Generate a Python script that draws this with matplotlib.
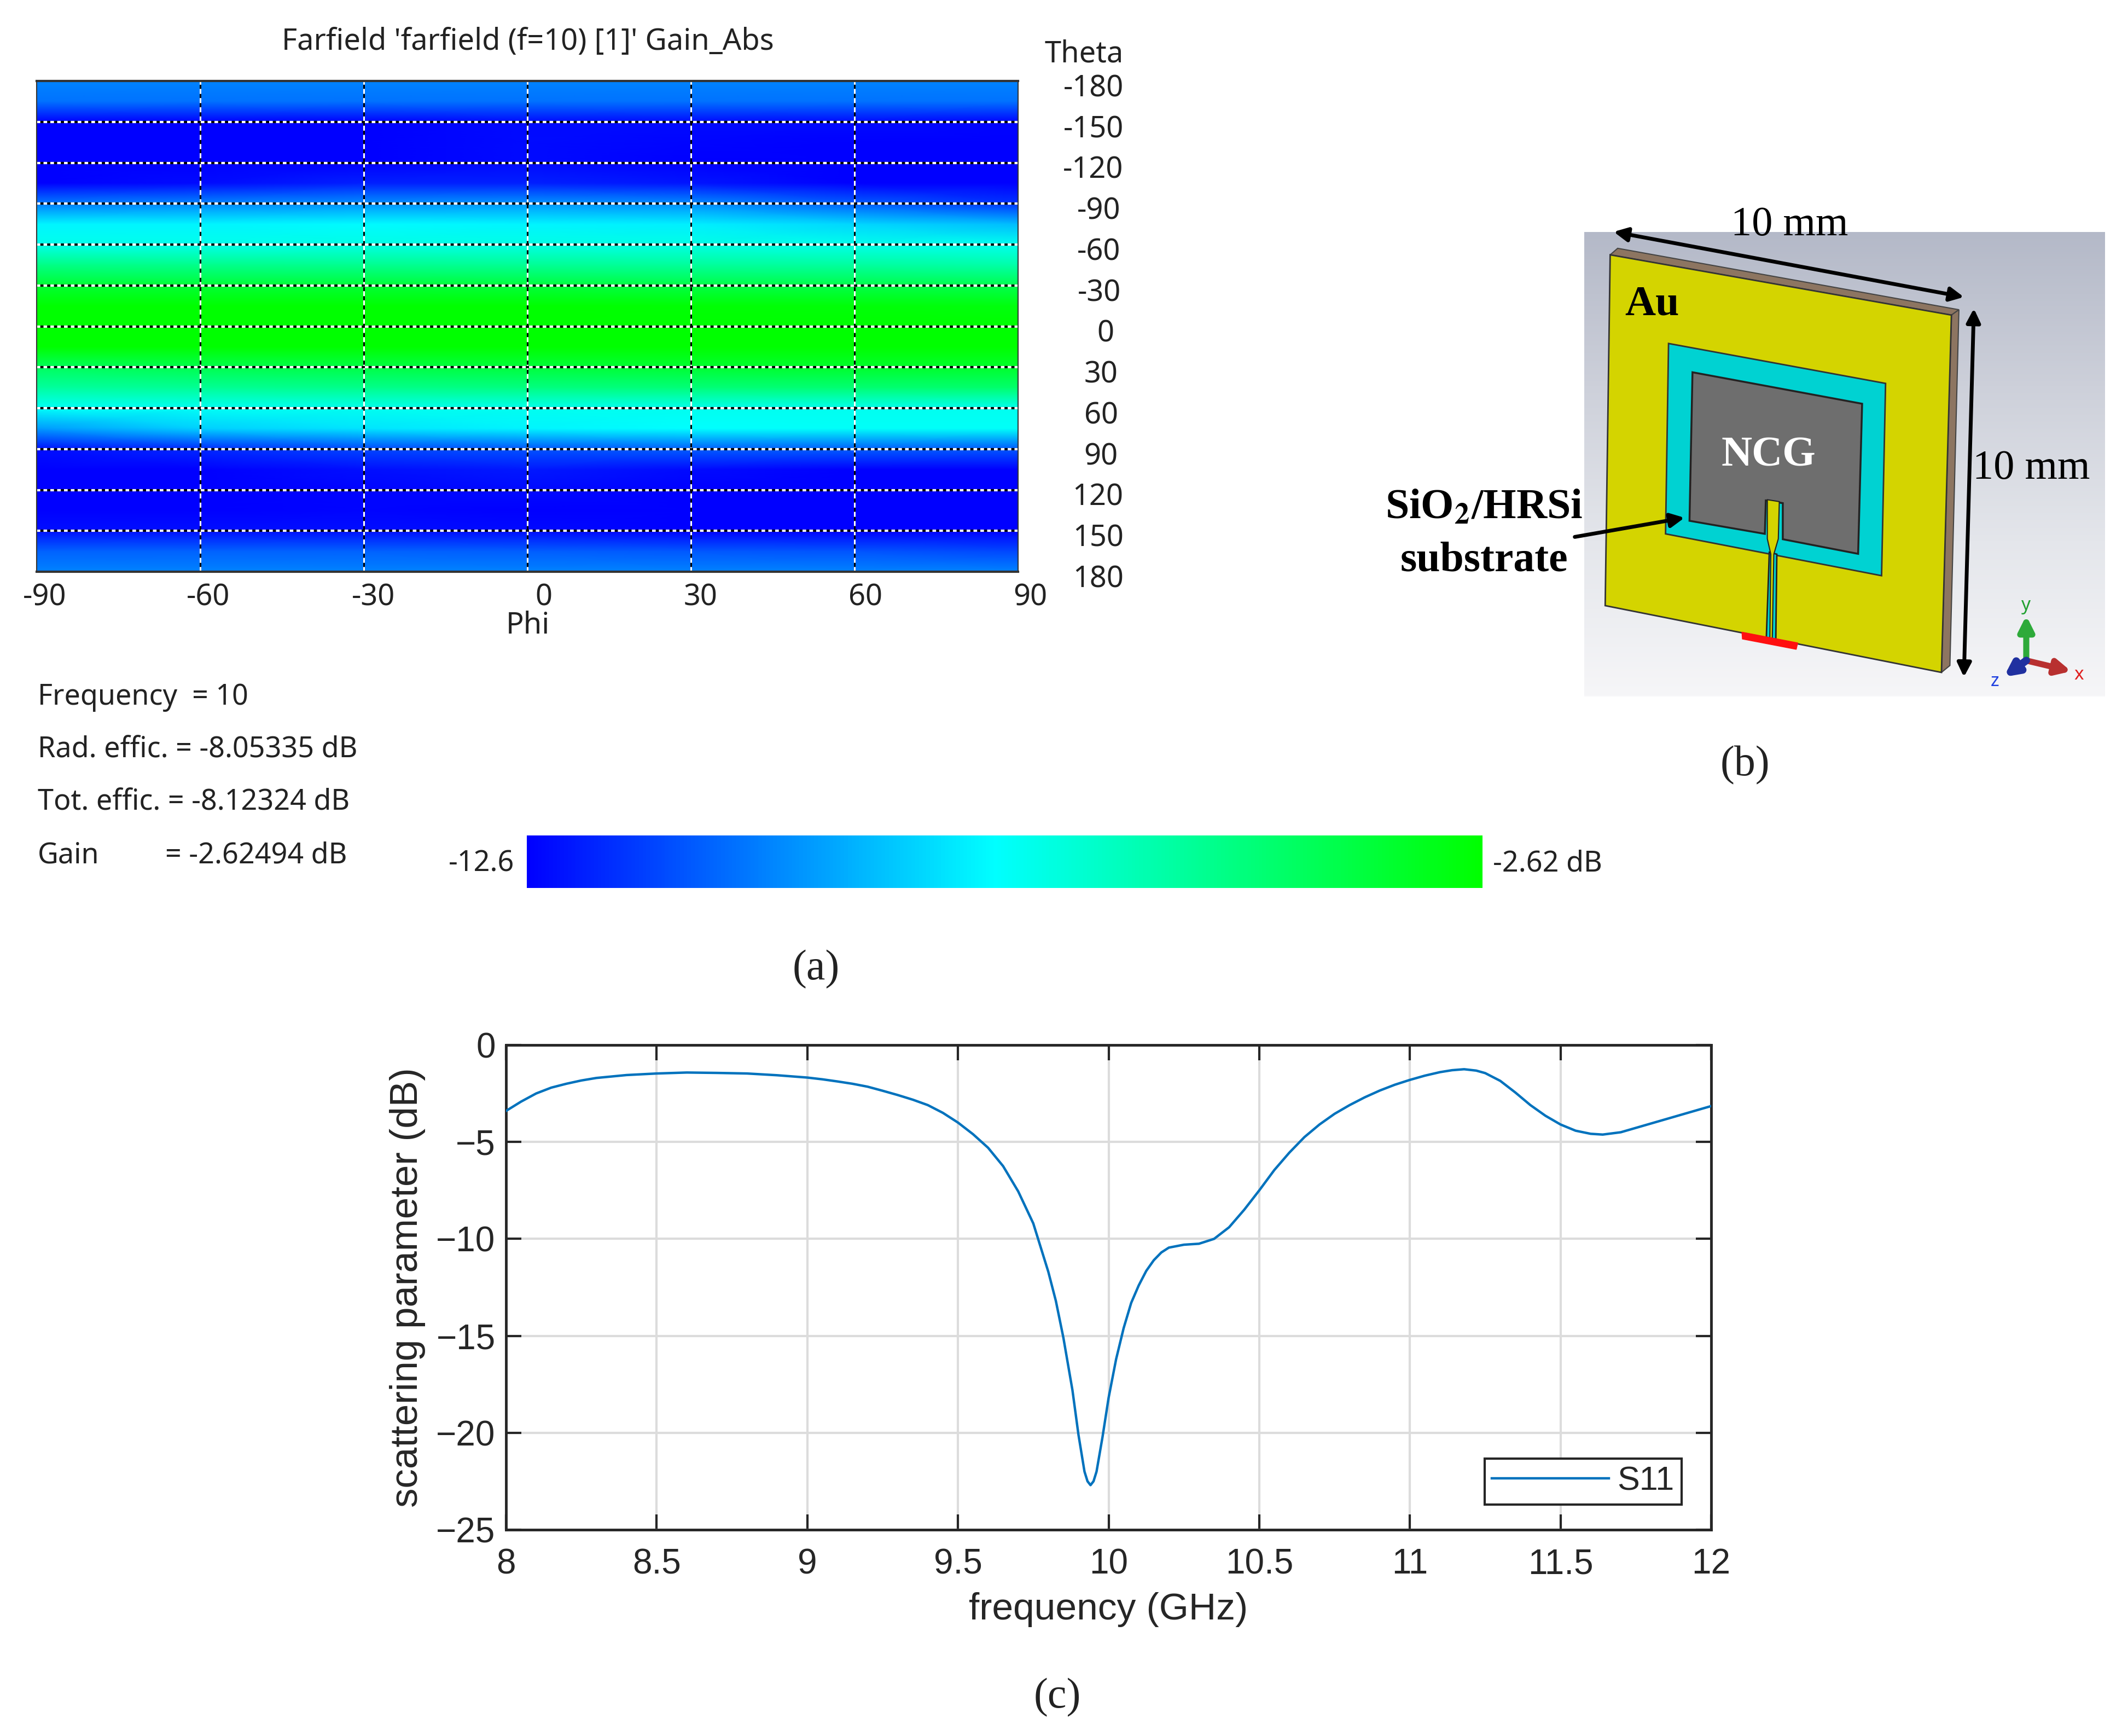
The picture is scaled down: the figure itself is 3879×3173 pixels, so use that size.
import numpy as np
import matplotlib
matplotlib.use("Agg")
import matplotlib.pyplot as plt
from matplotlib.colors import LinearSegmentedColormap, Normalize
from matplotlib.cm import ScalarMappable
from matplotlib.patches import Polygon
from matplotlib.transforms import ScaledTranslation

W, H = 3880, 3173
S = W / 1568

# ---------- panel (a) data: gain in dB ----------
phi = [-90, -60, -30, 0, 30, 60, 90]
theta = [-180, -165, -150, -135, -120, -105, -90, -75, -60, -45, -30, -15, 0,
         15, 30, 45, 60, 75, 90, 105, 120, 135, 150, 165, 180]
gain_db = [
    [-10.1, -10.1, -10.1, -10.1, -10.1, -10.1, -10.1],
    [-10.4, -10.4, -10.4, -10.4, -10.4, -10.4, -10.4],
    [-12.7, -12.7, -12.6, -12.4, -12.4, -12.4, -12.5],
    [-12.9, -12.9, -12.6, -12.4, -12.5, -12.8, -12.9],
    [-12.8, -13.0, -12.6, -12.4, -12.6, -13.0, -13.2],
    [-12.8, -12.4, -12.0, -12.0, -12.2, -13.0, -13.2],
    [-10.2, -10.0, -9.8, -9.7, -9.9, -10.8, -11.6],
    [-7.9, -7.9, -7.8, -7.9, -8.0, -8.5, -9.0],
    [-7.3, -7.3, -7.2, -7.2, -7.2, -7.3, -7.4],
    [-5.3, -5.4, -5.5, -5.6, -5.7, -5.8, -6.0],
    [-3.6, -3.7, -3.7, -3.8, -4.0, -4.1, -4.2],
    [-2.6, -2.6, -2.6, -2.6, -2.7, -2.8, -2.9],
    [-2.6, -2.6, -2.6, -2.6, -2.6, -2.6, -2.6],
    [-2.6, -2.6, -2.6, -2.6, -2.6, -2.6, -2.6],
    [-4.5, -4.2, -4.0, -3.8, -3.6, -3.5, -3.5],
    [-5.8, -5.6, -5.4, -5.2, -5.0, -4.9, -4.8],
    [-7.6, -7.5, -7.4, -7.4, -7.4, -7.4, -7.4],
    [-9.6, -8.6, -8.2, -7.9, -7.7, -7.6, -7.6],
    [-12.3, -11.8, -11.2, -11.0, -10.8, -10.8, -10.9],
    [-13.2, -12.8, -12.3, -12.1, -12.4, -13.0, -12.9],
    [-12.8, -13.0, -12.5, -12.4, -13.0, -13.2, -13.2],
    [-13.0, -12.6, -12.5, -12.7, -13.2, -13.2, -13.2],
    [-12.3, -12.3, -12.3, -12.4, -12.6, -12.8, -12.9],
    [-10.7, -10.7, -10.7, -10.8, -10.9, -11.0, -11.2],
    [-10.1, -10.1, -10.1, -10.1, -10.1, -10.1, -10.1],
]
gain_min, gain_max = -12.6, -2.62
phi_labels = ["-90", "-60", "-30", "0", "30", "60", "90"]
theta_labels = ["-180", "-150", "-120", "-90", "-60", "-30", "0", "30", "60", "90", "120", "150", "180"]
theta_ticks = [-180, -150, -120, -90, -60, -30, 0, 30, 60, 90, 120, 150, 180]
phi_label_shift = [6, 6, 7, 12, 7, 8, 9]
theta_label_right = [830, 830, 830, 828, 828, 828, 823, 826, 826, 826, 830, 830, 830]
info_lines = ["Frequency  = 10", "Rad. effic. = -8.05335 dB", "Tot. effic. = -8.12324 dB"]

# ---------- panel (c) data ----------
freq = [8.0, 8.05, 8.1, 8.15, 8.2, 8.25, 8.3, 8.4, 8.5, 8.6, 8.7, 8.8, 8.9, 9.0, 9.05, 9.1, 9.15, 9.2, 9.25,
        9.3, 9.35, 9.4, 9.45, 9.5, 9.55, 9.6, 9.65, 9.7, 9.75, 9.8, 9.825, 9.85, 9.88, 9.9, 9.92, 9.93, 9.94,
        9.95, 9.96, 9.98, 10.0, 10.025, 10.05, 10.075, 10.1, 10.125, 10.15, 10.175, 10.2, 10.25, 10.3, 10.35,
        10.4, 10.45, 10.5, 10.55, 10.6, 10.65, 10.7, 10.75, 10.8, 10.85, 10.9, 10.95, 11.0, 11.05, 11.1,
        11.14, 11.18, 11.22, 11.25, 11.3, 11.35, 11.4, 11.45, 11.5, 11.55, 11.6, 11.64, 11.7, 11.8, 11.9, 12.0]
s11 = [-3.4, -2.92, -2.5, -2.2, -2.0, -1.83, -1.7, -1.55, -1.47, -1.42, -1.44, -1.47, -1.56, -1.68, -1.77,
       -1.88, -2.0, -2.15, -2.36, -2.58, -2.82, -3.1, -3.5, -4.0, -4.6, -5.3, -6.25, -7.55, -9.2, -11.7,
       -13.2, -15.1, -17.8, -20.1, -22.0, -22.5, -22.7, -22.5, -22.0, -20.2, -18.2, -16.2, -14.6, -13.3,
       -12.4, -11.65, -11.1, -10.7, -10.45, -10.3, -10.25, -10.0, -9.4, -8.5, -7.5, -6.45, -5.55, -4.75,
       -4.1, -3.55, -3.1, -2.7, -2.35, -2.05, -1.8, -1.58, -1.4, -1.3, -1.25, -1.32, -1.45, -1.85, -2.45,
       -3.1, -3.65, -4.1, -4.42, -4.58, -4.62, -4.5, -4.05, -3.6, -3.15]

# ---------- panel (b) shapes, in crop coordinates ----------
board_front = [(541, 165), (1225, 322), (1205, 1253), (531, 1079)]
board_top = [(541, 165), (556, 148), (1240, 308), (1225, 322)]
board_side = [(1225, 322), (1240, 308), (1222, 1235), (1205, 1253)]
substrate = [(658, 396), (1093, 500), (1085, 1001), (652, 892)]
graphene = [(706, 471), (1046, 553), (1038, 944), (887, 906), (887, 812), (853, 805), (851, 892), (700, 858)]
feed_gap = [(860, 940), (875, 945), (873, 1167), (854, 1163)]
feed = [(856, 803), (880, 808), (878, 905), (869, 945), (866, 1165), (861, 1165), (863, 945), (856, 905)]
port = [(805, 1148), (917, 1176), (914, 1193), (806, 1166)]

plt.rcParams["font.family"] = ["Noto Sans", "DejaVu Sans"]
fig = plt.figure(figsize=(W / 100, H / 100), dpi=100, facecolor="white")

def axes_px(x0, y0, x1, y1, **kw):
    return fig.add_axes([x0 / W, 1 - y1 / H, (x1 - x0) / W, (y1 - y0) / H], **kw)

ov = axes_px(0, 0, W, H)
ov.set_xlim(0, W); ov.set_ylim(H, 0); ov.axis("off")

def stext(x, y, s, **kw):
    kw.setdefault("va", "center")
    ov.text(x * S, y * S, s, **kw)

cst = dict(color="#222222", fontsize=39)
info = dict(color="#222222", fontsize=37.5)

# ---------- (a) ----------
cmap = LinearSegmentedColormap.from_list("cst", [(0, "#0000ff"), (0.49, "#00ffff"), (1, "#00ff00")])
norm = Normalize(gain_min, gain_max)
ax = axes_px(67, 148, 1861, 1045)
ax.pcolormesh(phi, theta, np.array(gain_db), shading="gouraud", cmap=cmap, norm=norm)
ax.set_xlim(-90, 90); ax.set_ylim(180, -180)
ax.set_xticks(phi); ax.set_xticklabels(phi_labels, **cst)
ax.yaxis.tick_right()
ax.set_yticks(theta_ticks); ax.set_yticklabels(theta_labels, **cst)
ax.tick_params(length=0, pad=14)
for lab, d in zip(ax.get_xticklabels(), phi_label_shift):
    lab.set_transform(lab.get_transform() + ScaledTranslation(d * S / 100, 0, fig.dpi_scale_trans))
for lab, r in zip(ax.get_yticklabels(), theta_label_right):
    lab.set_ha("right")
    lab.set_transform(lab.get_transform() + ScaledTranslation((r - 760) * S / 100, -3 * S / 100, fig.dpi_scale_trans))
for v in phi[1:-1]:
    ax.axvline(v, color="black", lw=2.2)
    ax.axvline(v, color="white", lw=2.2, dashes=(3, 2.5))
for v in theta_ticks[1:-1]:
    ax.axhline(v, color="black", lw=3)
    ax.axhline(v, color="white", lw=3, dashes=(1.6, 1.4))
for sp in ax.spines.values():
    sp.set_color("#333333"); sp.set_linewidth(1.5)
ax.spines["top"].set_linewidth(3); ax.spines["bottom"].set_linewidth(3)

stext(390, 31, "Farfield 'farfield (f=10) [1]' Gain_Abs", ha="center", **cst)
stext(801, 40, "Theta", ha="center", **cst)
stext(390, 462, "Phi", ha="center", **cst)
for y, s in zip([515, 554, 593], info_lines):
    stext(28, y, s, ha="left", **info)
stext(28, 632, "Gain", ha="left", **info)
stext(122, 632, "= -2.62494 dB", ha="left", **info)

cax = axes_px(963, 1527, 2710, 1623)
cb = fig.colorbar(ScalarMappable(norm=norm, cmap=cmap), cax=cax, orientation="horizontal")
cb.set_ticks([]); cb.outline.set_visible(False)
stext(380, 638, "-12.6", ha="right", **info)
stext(1103, 638, "-2.62 dB", ha="left", **info)

serif = dict(family=["Liberation Serif", "DejaVu Serif"], color="#222222")
stext(603, 716, "(a)", ha="center", fontsize=56, **serif)
stext(1289, 565, "(b)", ha="center", fontsize=56, **serif)
stext(781, 1254, "(c)", ha="center", fontsize=56, **serif)

# ---------- (b) ----------
bx = axes_px(2450, 350, 3880, 1450)
bg_stops = np.array([[180, 185, 200], [205, 208, 218], [228, 230, 235], [246, 246, 248]]) / 255
bg_cmap = LinearSegmentedColormap.from_list("bg", bg_stops)
bx.imshow(np.linspace(0, 1, 256)[:, None], extent=(489, 1532, 1315, 105), cmap=bg_cmap, aspect="auto")
bx.set_xlim(0, 1568); bx.set_ylim(1568, 0); bx.axis("off")
for pts, fc, ec, lw in [
    (board_top, "#8d7561", "#444444", 1.5),
    (board_side, "#8d7561", "#444444", 1.5),
    (board_front, "#d4d400", "#333333", 2),
    (substrate, "#00d2d2", "#333333", 2),
    (graphene, "#6e6e6e", "#222222", 2.5),
    (feed_gap, "#00d2d2", "#222222", 2),
    (feed, "#d4d400", "#222222", 1.5),
    (port, "#ff1010", "#ff1010", 1),
]:
    bx.add_patch(Polygon(pts, closed=True, fc=fc, ec=ec, lw=lw))

def arrow(a, b, color="black", lw=5, style="<|-|>", ms=38):
    bx.annotate("", xy=b, xytext=a, arrowprops=dict(arrowstyle=style, color=color, lw=lw,
                mutation_scale=ms, shrinkA=0, shrinkB=0))

arrow((548, 105), (1250, 275))
arrow((1270, 305), (1250, 1265))
arrow((470, 900), (690, 850), style="-|>")
arrow((1375, 1222), (1375, 1105), color="#2eaa3a", lw=8, style="-|>", ms=40)
arrow((1375, 1222), (1465, 1250), color="#b83030", lw=8, style="-|>", ms=40)
arrow((1375, 1222), (1330, 1265), color="#2030a0", lw=10, style="-|>", ms=36)
bx.text(1374, 1078, "y", color="#20a030", fontsize=24, ha="center", va="center")
bx.text(1481, 1260, "x", color="#e02020", fontsize=24, ha="center", va="center")
bx.text(1312, 1276, "z", color="#2040e0", fontsize=24, ha="center", va="center")
tnr = dict(family=["Liberation Serif", "DejaVu Serif"], color="black", ha="center", va="center")
bx.text(900, 88, "10 mm", fontsize=55, **tnr)
bx.text(1385, 722, "10 mm", fontsize=55, **tnr)
bx.text(625, 295, "Au", fontsize=56, fontweight="bold", **tnr)
bx.text(858, 688, "NCG", fontsize=56, fontweight="bold", **{**tnr, "color": "white"})
bx.text(288, 825, "SiO$_{\\mathbf{2}}$/HRSi", fontsize=56, fontweight="bold", math_fontfamily="stix", **tnr)
bx.text(288, 962, "substrate", fontsize=56, fontweight="bold", **tnr)

# ---------- (c) ----------
sans = ["Liberation Sans", "DejaVu Sans"]
c = axes_px(925, 1910, 3128, 2796)
c.plot(freq, s11, color="#0072BD", lw=3.2, label="S11", zorder=3)
c.set_xlim(8, 12); c.set_ylim(-25, 0)
xt = [8, 8.5, 9, 9.5, 10, 10.5, 11, 11.5, 12]
c.set_xticks(xt); c.set_xticklabels(["8", "8.5", "9", "9.5", "10", "10.5", "11", "11.5", "12"], family=sans, fontsize=46, color="#262626")
yt = [-25, -20, -15, -10, -5, 0]
c.set_yticks(yt); c.set_yticklabels(["\u221225", "\u221220", "\u221215", "\u221210", "\u22125", "0"], family=sans, fontsize=46, color="#262626")
c.grid(True, color="#dcdcdc", lw=3)
c.set_axisbelow(True)
c.tick_params(direction="in", length=20, width=3, color="#262626", top=True, right=True, pad=14)
c.tick_params(axis="x", pad=24)
for sp in c.spines.values():
    sp.set_color("#262626"); sp.set_linewidth(3.5)
c.set_xlabel("frequency (GHz)", family=sans, fontsize=50, color="#262626", labelpad=15)
c.set_ylabel("scattering parameter (dB)", family=sans, fontsize=51, color="#262626", labelpad=14)
leg = c.legend(loc="lower right", bbox_to_anchor=(1 - 54 / 2203, 46 / 886), borderaxespad=0,
               prop=dict(family=sans, size=44), fancybox=False, framealpha=1, edgecolor="#262626",
               handlelength=3.5, handletextpad=0.25, borderpad=0.22, labelcolor="#262626")
leg.get_frame().set_linewidth(3)

fig.savefig("out.png", dpi=100, facecolor="white")
